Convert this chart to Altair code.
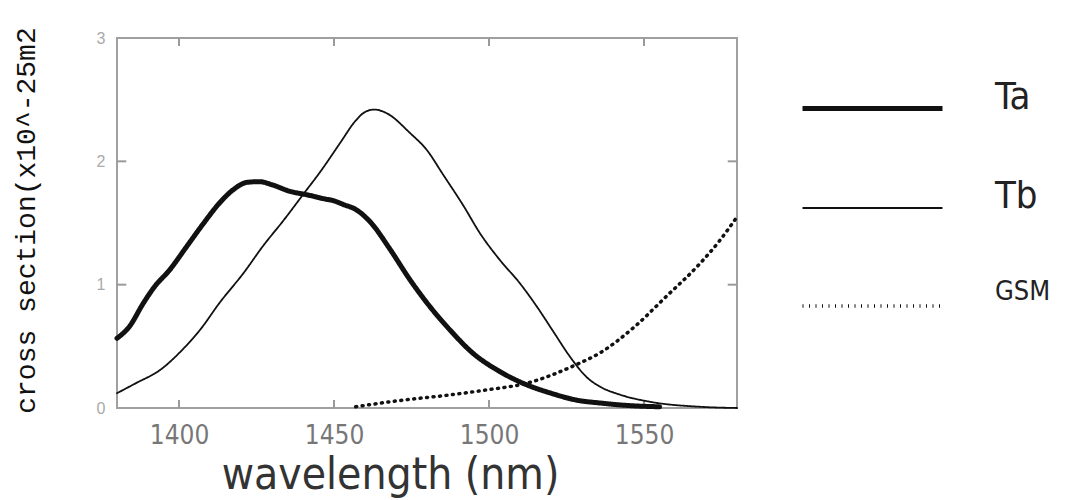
import altair as alt
import pandas as pd

# ---- data ----
series_names = ["Ta", "Tb", "GSM"]

ta_x = [1380, 1384, 1388.5, 1392, 1397, 1402.5, 1408, 1413, 1417.5, 1422, 1426, 1430, 1436, 1441,
        1447, 1450, 1453, 1457, 1462, 1468, 1474.5, 1481, 1487.5, 1495, 1502.5, 1511, 1520, 1528,
        1536, 1545, 1555]
ta_y = [0.565, 0.66, 0.85, 0.98, 1.12, 1.31, 1.50, 1.66, 1.77, 1.83, 1.835, 1.81, 1.755, 1.73,
        1.695, 1.68, 1.65, 1.61, 1.50, 1.29, 1.04, 0.82, 0.63, 0.44, 0.31, 0.20, 0.12, 0.065,
        0.04, 0.02, 0.01]

tb_x = [1380, 1386, 1394, 1401, 1407, 1413, 1421, 1427, 1434, 1440, 1446, 1452, 1457, 1460, 1463,
        1467, 1474.5, 1480, 1485, 1492, 1497, 1503.5, 1510, 1515.5, 1521, 1526, 1531.5, 1536,
        1542, 1552, 1568, 1580]
tb_y = [0.12, 0.20, 0.31, 0.47, 0.64, 0.85, 1.10, 1.31, 1.53, 1.73, 1.93, 2.15, 2.33, 2.40, 2.42,
        2.39, 2.23, 2.09, 1.90, 1.63, 1.42, 1.20, 1.01, 0.82, 0.61, 0.42, 0.25, 0.17,
        0.11, 0.05, 0.01, 0.0]

gsm_x = [1457, 1471, 1487, 1499, 1512, 1528, 1536, 1547, 1557, 1568, 1574.5, 1580]
gsm_y = [0.01, 0.06, 0.105, 0.146, 0.20, 0.35, 0.45, 0.66, 0.90, 1.17, 1.36, 1.55]

x_ticks = [1400, 1450, 1500, 1550]
y_ticks = [0, 1, 2, 3]
x_domain = [1380, 1580]
y_domain = [0, 3]

# ---- tables ----
rows = []
for name, xs, ys in [("Ta", ta_x, ta_y), ("Tb", tb_x, tb_y), ("GSM", gsm_x, gsm_y)]:
    for i, (a, b) in enumerate(zip(xs, ys)):
        rows.append({"series": name, "wavelength": a, "value": b, "i": i})
df = pd.DataFrame(rows)

xt = pd.DataFrame({"t": x_ticks})
yt = pd.DataFrame({"t": [v for v in y_ticks if 0 < v < 3]})

xscale = alt.Scale(domain=x_domain, nice=False, zero=False)
yscale = alt.Scale(domain=y_domain, nice=False)

sans = "DejaVu Sans Condensed, DejaVu Sans"

leg = alt.Legend(orient="none", legendX=683, legendY=-2, title=None, symbolType="stroke",
                 symbolSize=19600, symbolStrokeColor="#111",
                 labelFontSize=alt.ExprRef(expr="datum.value == 'GSM' ? 27 : 38"),
                 labelBaseline=alt.ExprRef(expr="datum.value == 'GSM' ? 'bottom' : 'alphabetic'"),
                 labelFont=sans, labelColor="#222", labelOffset=50, rowPadding=18)

lines = alt.Chart(df).mark_line(color="#111", interpolate="monotone", strokeCap="round").encode(
    x=alt.X("wavelength:Q", scale=xscale,
            axis=alt.Axis(values=x_ticks, format="d", title="wavelength (nm)", ticks=False,
                          domain=False, grid=False, labelFontSize=26, labelColor="#777",
                          labelFont=sans, labelPadding=14, titleFontSize=44,
                          titleFont=sans, titleFontWeight="normal", titleColor="#333",
                          titleX=273, titleY=80, titleBaseline="alphabetic", titleAlign="center")),
    y=alt.Y("value:Q", scale=yscale,
            axis=alt.Axis(values=y_ticks, format="d", title="cross section(x10^-25m2",
                          ticks=False, domain=False, grid=False, labelFontSize=16,
                          labelColor="#aaa", labelPadding=12, titleFontSize=28,
                          titleFont="Liberation Mono", titleFontWeight="normal",
                          titleColor="#111", titleX=-91, titleY=182, titleAngle=-90,
                          titleBaseline="middle", titleAlign="center")),
    strokeWidth=alt.StrokeWidth("series:N", sort=series_names,
                                scale=alt.Scale(type="ordinal", domain=series_names,
                                                range=[5, 1.8, 3.5]),
                                legend=leg),
    strokeDash=alt.StrokeDash("series:N", sort=series_names,
                              scale=alt.Scale(domain=series_names,
                                              range=[[1, 0], [1, 0], [1, 5.5]]),
                              legend=leg),
    order="i:Q",
)

tick_color = "#9a9a9a"
xb = alt.Chart(xt).mark_rule(color=tick_color, strokeWidth=2).encode(
    x=alt.X("t:Q", scale=xscale), y=alt.datum(0), y2=alt.datum(0.065))
xtop = alt.Chart(xt).mark_rule(color=tick_color, strokeWidth=2).encode(
    x=alt.X("t:Q", scale=xscale), y=alt.datum(2.935), y2=alt.datum(3))
yl = alt.Chart(yt).mark_rule(color=tick_color, strokeWidth=2).encode(
    y=alt.Y("t:Q", scale=yscale), x=alt.datum(1380), x2=alt.datum(1383))
yr = alt.Chart(yt).mark_rule(color=tick_color, strokeWidth=2).encode(
    y=alt.Y("t:Q", scale=yscale), x=alt.datum(1577), x2=alt.datum(1580))

chart = alt.layer(xb, xtop, yl, yr, lines).properties(
    width=620, height=370,
    autosize=alt.AutoSizeParams(type="none"),
    padding={"left": 109, "top": 30, "right": 320, "bottom": 92},
    background="white",
).configure_view(stroke="#a0a0a0", strokeWidth=2)

chart.save("out.html", embed_options={"renderer": "svg", "actions": False})
